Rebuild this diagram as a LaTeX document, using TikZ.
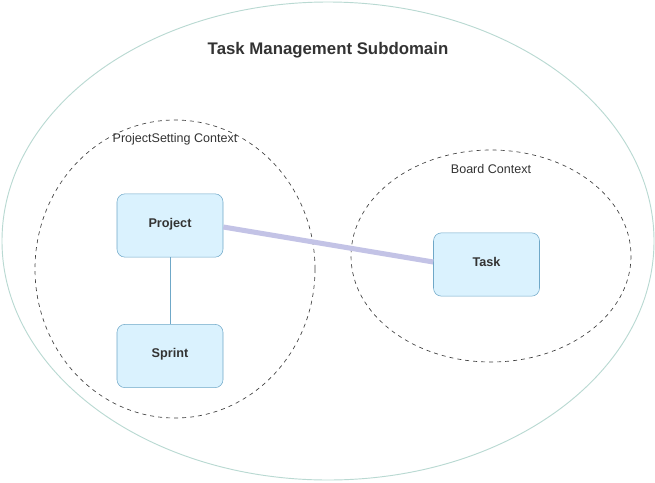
\documentclass[tikz,border=0pt]{standalone}
\usepackage{fontspec}
\setmainfont{Liberation Sans}
\definecolor{boxfill}{HTML}{DAF2FE}
\definecolor{boxdraw}{HTML}{6FA8C8}
\definecolor{outerdraw}{HTML}{B9D9D2}
\definecolor{txt}{HTML}{333333}
\definecolor{lav}{HTML}{C3C3E6}
\newcommand{\up}[1]{\raisebox{4pt}{#1}}
\begin{document}
\begin{tikzpicture}[x=0.75pt,y=-0.75pt,
  entity/.style={draw=boxdraw,fill=boxfill,rounded corners=6pt,minimum width=79.5pt,minimum height=47.5pt,font=\fontsize{9.5}{11}\selectfont\bfseries,text=txt},
  ctx/.style={draw=black!75,dashed,line width=0.5pt},
  lbl/.style={font=\fontsize{9.4}{11}\selectfont,text=txt}]
\useasboundingbox (0,0) rectangle (655,482);
\draw[outerdraw,line width=0.7pt] (328,241) ellipse [x radius=326, y radius=239];
\draw[ctx] (175,269) ellipse [x radius=140, y radius=149];
\draw[ctx] (491,256) ellipse [x radius=140, y radius=106];
\node[font=\fontsize{12.6}{14}\selectfont\bfseries,text=txt] (title) at (328,50) {Task Management Subdomain};
\node[lbl] (pslabel) at (175,139.5) {ProjectSetting Context};
\node[lbl] (bclabel) at (491,169.5) {Board Context};
\node[entity] (project) at (170,225.5) {\up{Project}};
\node[entity] (sprint) at (170,356) {\up{Sprint}};
\node[entity] (task) at (486.5,264.5) {\up{Task}};
\draw[boxdraw,line width=0.75pt] (project) -- (sprint);
\draw[lav,line width=3.8pt] (project.east |- 0,227) -- (task.west |- 0,262);
\end{tikzpicture}
\end{document}
